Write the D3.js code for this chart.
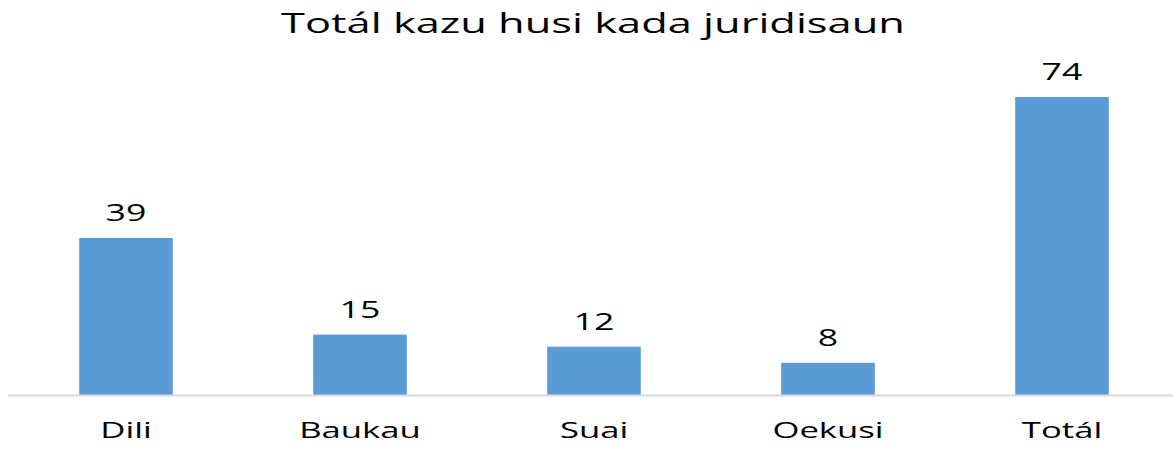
<!DOCTYPE html>
<html lang="en">
<head>
  <meta charset="UTF-8" />
  <script src="https://d3js.org/d3.v7.min.js"></script>
  <title>Totál kazu husi kada juridisaun</title>
  <style>
    body { margin: 0; background: #fff; }
    text { font-family: "Open Sans", sans-serif; fill: #000; }
  </style>
</head>
<body>
  <script>
    var categories = ["Dili", "Baukau", "Suai", "Oekusi", "Totál"];
    var values = [39, 15, 12, 8, 74];
    var title = "Totál kazu husi kada juridisaun";

    var width = 1173,
      height = 451,
      baseline = 395;

    // the original picture is stretched sideways, so widen the text to match
    function stretch(sel, k) {
      sel.each(function () {
        var len = this.getComputedTextLength();
        d3.select(this)
          .attr("textLength", len * k)
          .attr("lengthAdjust", "spacingAndGlyphs");
      });
    }

    var xScale = d3.scaleBand()
      .domain(categories)
      .range([9, 9 + 234 * 5])
      .paddingInner(0.6)
      .paddingOuter(0.3);

    var yScale = d3.scaleLinear()
      .domain([0, 74])
      .range([baseline, 97]);

    var svg = d3.select("body")
      .append("svg")
      .attr("width", width)
      .attr("height", height);

    svg.append("text")
      .attr("x", 593)
      .attr("y", 33)
      .attr("text-anchor", "middle")
      .style("font-size", "28px")
      .text(title)
      .call(stretch, 1.55);

    svg.selectAll("rect.bar")
      .data(values)
      .enter()
      .append("rect")
      .attr("class", "bar")
      .attr("x", (d, i) => xScale(categories[i]))
      .attr("y", (d) => yScale(d))
      .attr("width", xScale.bandwidth())
      .attr("height", (d) => baseline - yScale(d))
      .style("fill", "#5B9BD5");

    // value labels
    svg.selectAll("text.val")
      .data(values)
      .enter()
      .append("text")
      .attr("class", "val")
      .attr("x", (d, i) => xScale(categories[i]) + xScale.bandwidth() / 2)
      .attr("y", (d) => yScale(d) - 17)
      .attr("text-anchor", "middle")
      .style("font-size", "23px")
      .text((d) => d)
      .call(stretch, 1.55);

    // x axis
    var xAxis = d3.axisBottom(xScale).tickSize(0).tickPadding(28);
    var gx = svg.append("g")
      .attr("transform", "translate(0," + baseline + ")")
      .call(xAxis);
    gx.select(".domain").attr("d", "M8,0.5H1173").style("stroke", "#D9D9D9").style("stroke-width", 2);
    gx.selectAll(".tick text")
      .style("font-size", "21px")
      .style("font-family", "'Open Sans', sans-serif")
      .attr("fill", "#000")
      .call(stretch, 1.65);
  </script>
</body>
</html>
